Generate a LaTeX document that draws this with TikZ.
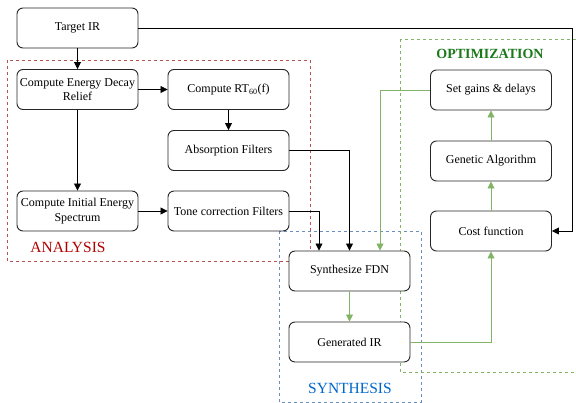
\documentclass[tikz,border=0pt]{standalone}
\usepackage{fontspec}
\setmainfont{Liberation Serif}
\usetikzlibrary{arrows.meta}

\definecolor{flowgreen}{HTML}{82B366}
\definecolor{anared}{HTML}{B85450}
\definecolor{synblue}{HTML}{6C8EBF}
\definecolor{labred}{HTML}{B20000}
\definecolor{labblue}{HTML}{0066CC}
\definecolor{labgreen}{HTML}{1A7A1A}

\begin{document}
\begin{tikzpicture}[x=1pt, y=-1pt, >={Triangle[length=7pt,width=7pt]}]
        \tikzstyle{block}=[draw=black!85,fill=white,rounded corners=6pt,line width=0.9pt,minimum width=121pt,minimum height=40pt,inner sep=1pt,align=center,font=\fontsize{12}{14.5}\selectfont]
        \tikzstyle{flow}=[->,line width=0.8pt,black]
        \tikzstyle{gflow}=[->,line width=0.8pt,flowgreen]
        \tikzstyle{region}=[dashed,line width=0.6pt,dash pattern=on 3pt off 3pt]

        \useasboundingbox (0,0) rectangle (576,403);

        % dashed regions
        \draw[region,anared] (7,60) rectangle (310,261);
        \draw[region,synblue] (279,231) rectangle (421,402);
        \draw[region,flowgreen] (400,39) rectangle (590,372);

        \node[font=\fontsize{15.5}{17}\selectfont,labred] (L_1) at (68,247) {ANALYSIS};
        \node[font=\fontsize{15.5}{17}\selectfont,labblue] (L_2) at (350,388) {SYNTHESIS};
        \node[font=\bfseries\fontsize{14}{16}\selectfont,labgreen] (L_3) at (490,54) {OPTIMIZATION};

        % analysis
        \node[block] (A_1) at (77.5,28)  {Target IR};
        \node[block] (A_2) at (77.5,89.5)  {Compute Energy Decay\\Relief};
        \node[block] (A_3) at (228.5,89.5)  {Compute RT\textsubscript{60}(f)};
        \node[block] (A_4) at (228.5,150.5)  {Absorption Filters};
        \node[block] (A_5) at (77.5,211)  {Compute Initial Energy\\Spectrum};
        \node[block] (A_6) at (228.5,211)  {Tone correction Filters};

        % synthesis
        \node[block] (S_1) at (349.5,271)  {Synthesize FDN};
        \node[block] (S_2) at (349.5,342)  {Generated IR};

        % optimization
        \node[block] (O_1) at (491,90)  {Set gains \& delays};
        \node[block] (O_2) at (491,161)  {Genetic Algorithm};
        \node[block] (O_3) at (491,231)  {Cost function};

        \coordinate (R) at (572,28);

        \draw[flow] (A_1) -- (A_2);
        \draw[flow] (A_2) -- (A_3);
        \draw[flow] (A_3) -- (A_4);
        \draw[flow] (A_2) -- (A_5);
        \draw[flow] (A_5) -- (A_6);
        \draw[flow] (A_4.east) -| (S_1.north);
        \draw[flow] (A_6.east) -| ([xshift=-30.5pt]S_1.north);
        \draw[flow] (A_1.east) -- (R) |- (O_3.east);

        \draw[gflow] (O_1.west) -| ([xshift=30.5pt]S_1.north);
        \draw[gflow] (S_1) -- (S_2);
        \draw[gflow] (S_2.east) -| (O_3.south);
        \draw[gflow] (O_3) -- (O_2);
        \draw[gflow] (O_2) -- (O_1);
    \end{tikzpicture}
\end{document}
